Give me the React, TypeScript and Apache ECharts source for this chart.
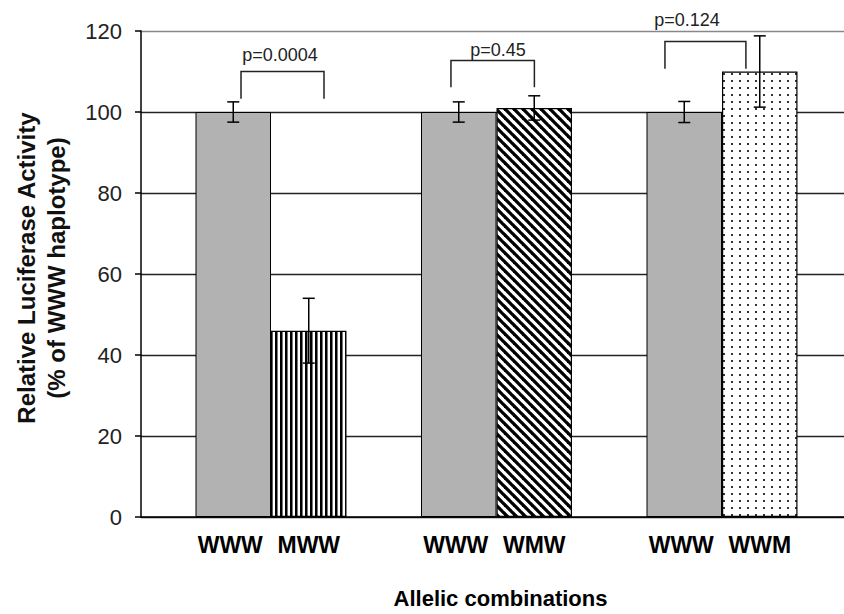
import React, { useEffect, useRef } from 'react';
import * as echarts from 'echarts';

// ---- data ----
const groups = [0, 1, 2];
const xTickLabels = ['WWW', 'MWW', 'WWW', 'WMW', 'WWW', 'WWM'];
const referenceValues = [100, 100, 100];
const referenceErrors = [2.5, 2.5, 2.6];
const variantValues = [46, 101, 110];
const variantErrors = [8, 3, 8.8];
const yTicks = [0, 20, 40, 60, 80, 100, 120];
const pLabels = ['p=0.0004', 'p=0.45', 'p=0.124'];
// bracket: [xLeft, xRight, yTop, yLegEnd]
const brackets = [
  [-0.133, 0.235, 110, 103.3],
  [0.798, 1.168, 112.7, 106.1],
  [1.747, 2.106, 117.4, 110.7],
];
const pLabelPos = [
  [0.04, 114.1],
  [1.007, 115.2],
  [1.845, 122.7],
];

// ---- layout / style ----
const FONT = 'Liberation Sans, Arial, sans-serif';
const GRID_LEFT = 141;
const GRID_TOP = 31;
const GRID_W = 703;
const GRID_H = 491;
const X_MIN = -0.5765;
const X_MAX = 2.541;
const BAR_W = 75.5;
const LABEL_OFFSET = 28;

function makeTile(w: number, h: number, draw: (ctx: CanvasRenderingContext2D) => void) {
  const c = document.createElement('canvas');
  c.width = w;
  c.height = h;
  const ctx = c.getContext('2d')!;
  ctx.fillStyle = '#fff';
  ctx.fillRect(0, 0, w, h);
  draw(ctx);
  return { image: c, repeat: 'repeat', imageWidth: w, imageHeight: h } as any;
}

export default function App() {
  const ref = useRef<HTMLDivElement>(null);
  useEffect(() => {
    if (!ref.current) return;
    const chart = echarts.init(ref.current, null, { renderer: 'svg' });

    const vStripes = makeTile(5, 4, (ctx) => {
      ctx.fillStyle = '#000';
      ctx.fillRect(0, 0, 2, 4);
      ctx.fillStyle = '#777';
      ctx.fillRect(2, 0, 1, 4);
    });
    const dStripes = makeTile(9, 9, (ctx) => {
      ctx.strokeStyle = '#000';
      ctx.lineWidth = 3.3;
      for (const o of [-9, 0, 9]) {
        ctx.beginPath();
        ctx.moveTo(o - 2, -2);
        ctx.lineTo(o + 11, 11);
        ctx.stroke();
      }
    });
    const dots = makeTile(8, 7, (ctx) => {
      ctx.fillStyle = '#333';
      ctx.fillRect(3, 3, 2, 2);
    });
    const variantFills = [vStripes, dStripes, dots];

    const errData: number[][] = [];
    groups.forEach((g, i) => {
      errData.push([g, referenceValues[i], referenceErrors[i], -1]);
      errData.push([g, variantValues[i], variantErrors[i], 1]);
    });

    const bracketData = brackets.map((b, i) => [b[0], b[1], b[2], b[3], pLabelPos[i][0], pLabelPos[i][1]]);

    const option: any = {
      animation: false,
      backgroundColor: '#fff',
      grid: { left: GRID_LEFT, top: GRID_TOP, width: GRID_W, height: GRID_H },
      xAxis: {
        type: 'value',
        min: X_MIN,
        max: X_MAX,
        splitLine: { show: false },
        axisTick: { show: false },
        axisLabel: { show: false },
        axisLine: { onZero: false, lineStyle: { color: '#000', width: 1.5 } },
        name: 'Allelic combinations',
        nameLocation: 'middle',
        nameGap: 70,
        nameTextStyle: { fontFamily: FONT, fontSize: 22, fontWeight: 'bold', color: '#000', padding: [0, 0, 0, 16] },
      },
      yAxis: {
        type: 'value',
        min: yTicks[0],
        max: yTicks[yTicks.length - 1],
        interval: yTicks[1] - yTicks[0],
        axisLine: { show: true, onZero: false, lineStyle: { color: '#000', width: 1.5 } },
        axisTick: { show: true, length: 6, lineStyle: { color: '#000', width: 1.5 } },
        axisLabel: { fontFamily: FONT, fontSize: 22, color: '#222', margin: 19 },
        splitLine: {
          show: true,
          lineStyle: { color: ['#222', '#222', '#222', '#222', '#222', '#222', '#888'], width: 1.3 },
        },
        name: 'Relative Luciferase Activity\n(% of WWW haplotype)',
        nameLocation: 'middle',
        nameGap: 70,
        nameTextStyle: {
          fontFamily: FONT,
          fontSize: 24,
          fontWeight: 'bold',
          color: '#111',
          lineHeight: 30,
          padding: [0, 0, 0, 12],
        },
      },
      series: [
        {
          type: 'bar',
          name: 'WWW',
          data: groups.map((g, i) => [g, referenceValues[i]]),
          barWidth: BAR_W,
          barGap: '0%',
          itemStyle: { color: '#b2b2b2', borderColor: '#000', borderWidth: 1 },
        },
        {
          type: 'bar',
          name: 'variant',
          data: groups.map((g, i) => ({ value: [g, variantValues[i]], itemStyle: { color: variantFills[i] } })),
          barWidth: BAR_W,
          barGap: '0%',
          itemStyle: { borderColor: '#000', borderWidth: 1.2 },
        },
        {
          type: 'custom',
          name: 'errors',
          data: errData,
          z: 5,
          renderItem: (p: any, api: any) => {
            const g = api.value(0);
            const mean = api.value(1);
            const err = api.value(2);
            const side = api.value(3);
            const top = api.coord([g, mean + err]);
            const bot = api.coord([g, mean - err]);
            const base = api.coord([g, 0]);
            const x = top[0] + (side * BAR_W) / 2;
            const cap = 6;
            const st = { stroke: '#000', lineWidth: 1.5 };
            return {
              type: 'group',
              children: [
                { type: 'line', shape: { x1: x, y1: top[1], x2: x, y2: bot[1] }, style: st },
                { type: 'line', shape: { x1: x - cap, y1: top[1], x2: x + cap, y2: top[1] }, style: st },
                { type: 'line', shape: { x1: x - cap, y1: bot[1], x2: x + cap, y2: bot[1] }, style: st },
                {
                  type: 'text',
                  x: x - (side < 0 ? 3 : 0),
                  y: base[1] + LABEL_OFFSET,
                  style: {
                    text: xTickLabels[p.dataIndex],
                    fontFamily: FONT,
                    fontSize: 23,
                    fontWeight: 'bold',
                    fill: '#000',
                    align: 'center',
                    verticalAlign: 'middle',
                  },
                },
              ],
            };
          },
        },
        {
          type: 'custom',
          name: 'brackets',
          data: bracketData,
          z: 5,
          renderItem: (p: any, api: any) => {
            const xl = api.value(0), xr = api.value(1), yt = api.value(2), yl = api.value(3);
            const a = api.coord([xl, yl]);
            const b = api.coord([xl, yt]);
            const c = api.coord([xr, yt]);
            const d = api.coord([xr, yl]);
            const t = api.coord([api.value(4), api.value(5)]);
            return {
              type: 'group',
              children: [
                {
                  type: 'polyline',
                  shape: { points: [a, b, c, d] },
                  style: { stroke: '#222', lineWidth: 1.5, fill: 'none' },
                },
                {
                  type: 'text',
                  x: t[0],
                  y: t[1],
                  style: {
                    text: pLabels[p.dataIndex],
                    fontFamily: FONT,
                    fontSize: 18,
                    fill: '#222',
                    align: 'center',
                    verticalAlign: 'middle',
                  },
                },
              ],
            };
          },
        },
      ],
    };
    chart.setOption(option);
    return () => chart.dispose();
  }, []);
  return (
    <div
      ref={ref}
      style={{ position: 'fixed', left: 0, top: 0, width: 844, height: 614, background: '#fff' }}
    />
  );
}
